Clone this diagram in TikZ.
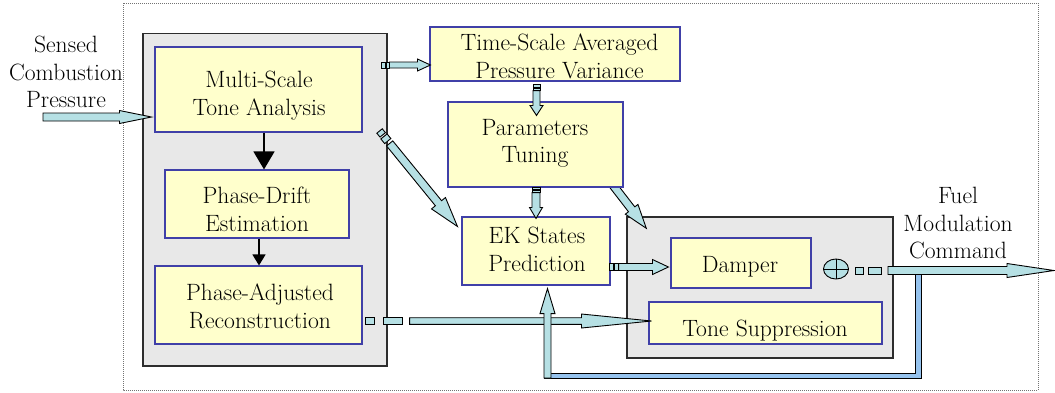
\documentclass[tikz,border=0pt]{standalone}
\usepackage{fontspec}
\usetikzlibrary{calc,arrows.meta,shapes.geometric}
\definecolor{arrfill}{RGB}{182,224,228}
\definecolor{fbblue}{RGB}{150,195,238}
\definecolor{ybfill}{RGB}{255,255,204}
\definecolor{ybdraw}{RGB}{64,64,168}
\definecolor{gbfill}{RGB}{232,232,232}
\definecolor{gbdraw}{RGB}{45,45,45}
\newcommand\blkarrow[6][]{%
  \path (#3) coordinate (bkT) ($(#3)!#6!(#2)$) coordinate (bkC);
  \filldraw[barr,#1] ($(#2)!#4!90:(bkT)$) -- ($(bkC)!#4!90:(bkT)$) -- ($(bkC)!#5!90:(bkT)$) -- (bkT)
     -- ($(bkC)!#5!-90:(bkT)$) -- ($(bkC)!#4!-90:(bkT)$) -- ($(#2)!#4!-90:(bkT)$) -- cycle;
}
\newcommand\blkseg[6][]{%
  \path ($(#2)!#4!(#3)$) coordinate (bsA) ($(#2)!#5!(#3)$) coordinate (bsB);
  \filldraw[barr,#1] ($(bsA)!#6!90:(bsB)$) -- ($(bsB)!#6!-90:(bsA)$) -- ($(bsB)!#6!90:(bsA)$) -- ($(bsA)!#6!-90:(bsB)$) -- cycle;
}
\tikzset{
  ybox/.style={draw=ybdraw, fill=ybfill, line width=1.1pt, inner sep=0pt, rectangle},
  gbox/.style={draw=gbdraw, fill=gbfill, line width=1.4pt, inner sep=0pt, rectangle},
  lbl/.style={font=\rmfamily\fontsize{23.6}{27.5}\selectfont, align=center, inner sep=0pt, anchor=north},
  barr/.style={fill=arrfill, draw=black, line width=0.9pt, line join=miter},
  blk/.style={draw=black, line width=1.3pt},
  fbl/.style={draw=black, line width=1pt, double=fbblue, double distance=4.5pt},
  outer/.style={draw=black!55, densely dotted, line width=1pt}
}
\begin{document}
\begin{tikzpicture}[x=1pt,y=-1pt]
\useasboundingbox (0,0) rectangle (1055,392);
% frame
\draw[outer] (123,3) rectangle (1038,390);
% containers
\node[gbox, minimum width=244pt, minimum height=332.5pt] (gl) at (265,199.75) {};
\node[gbox, minimum width=266pt, minimum height=141pt] (gr) at (760,287.5) {};
% arrow behind parameters box
\coordinate (d2s) at (609,180);
\coordinate (d2t) at ($(gr.north west)+(20,12)$);
\blkarrow{d2s}{d2t}{4pt}{8pt}{24pt}
% yellow boxes
\node[ybox, minimum width=207pt, minimum height=85pt] (ms) at (258.5,89.5) {};
\node[ybox, minimum width=184pt, minimum height=68pt] (pd) at (257,204) {};
\node[ybox, minimum width=207pt, minimum height=78pt] (pa) at (258.5,305) {};
\node[ybox, minimum width=250pt, minimum height=54pt] (ts) at (555,54) {};
\node[ybox, minimum width=175pt, minimum height=85pt] (pt) at (535.5,144.5) {};
\node[ybox, minimum width=148pt, minimum height=68pt] (ek) at (536,251) {};
\node[ybox, minimum width=140pt, minimum height=50pt] (dm) at (741,263) {};
\node[ybox, minimum width=233pt, minimum height=42pt] (tsup) at (765.5,323) {};
% input arrow
\coordinate (ins) at (43,117);
\coordinate (int) at ($(ms.west)+(-3,27.5)$);
\blkarrow{ins}{int}{4pt}{6.5pt}{32pt}
% to time-scale
\coordinate (tss) at ($(ts.west)+(-48,11)$);
\coordinate (tst) at ($(ts.west)+(1,11)$);
\blkseg{tss}{tst}{0pt}{3.5pt}{3pt}
\blkseg{tss}{tst}{4.5pt}{8pt}{3pt}
\coordinate (tsm) at ($(tss)!8pt!(tst)$);
\blkarrow{tsm}{tst}{3pt}{6pt}{13pt}
% time-scale to parameters
\coordinate (tps) at ($(ts.south)+(-18.5,3)$);
\coordinate (tpt) at ($(pt.north)+(1,14)$);
\blkseg{tps}{tpt}{0pt}{2.5pt}{3.5pt}
\blkseg{tps}{tpt}{3.5pt}{6pt}{3.5pt}
\coordinate (tpm) at ($(tps)!6pt!(tpt)$);
\blkarrow{tpm}{tpt}{3.5pt}{6.5pt}{10pt}
% parameters to EK
\coordinate (pes) at ($(pt.south)+(0.5,0)$);
\coordinate (pet) at ($(ek.north)+(0,2)$);
\blkseg{pes}{pet}{0pt}{2pt}{4pt}
\blkseg{pes}{pet}{3pt}{5pt}{4pt}
\coordinate (pem) at ($(pes)!5pt!(pet)$);
\blkarrow{pem}{pet}{4pt}{6.5pt}{11pt}
% EK to damper
\coordinate (eds) at ($(ek.east)+(-1,16)$);
\coordinate (edt) at ($(dm.west)+(-2,4)$);
\blkseg{eds}{edt}{0pt}{3.5pt}{3.5pt}
\blkseg{eds}{edt}{4.5pt}{9pt}{3.5pt}
\coordinate (edm) at ($(eds)!9pt!(edt)$);
\blkarrow{edm}{edt}{3.5pt}{7.5pt}{16pt}
% diagonal from tone analysis to EK
\coordinate (d1s) at ($(ms.east)+(17,41.5)$);
\coordinate (d1t) at ($(ek.north west)+(-4,10)$);
\blkseg{d1s}{d1t}{0pt}{5pt}{3.5pt}
\blkseg{d1s}{d1t}{7pt}{13pt}{4pt}
\coordinate (d1m) at ($(d1s)!16pt!(d1t)$);
\blkarrow{d1m}{d1t}{4pt}{9pt}{30pt}
% phase-adjusted to tone suppression
\coordinate (pts) at ($(pa.east)+(3,16)$);
\coordinate (ptt) at ($(tsup.west)+(3,-2)$);
\blkseg{pts}{ptt}{0pt}{9pt}{3.3pt}
\blkseg{pts}{ptt}{18pt}{37pt}{3.3pt}
\coordinate (ptm) at ($(pts)!44pt!(ptt)$);
\blkarrow{ptm}{ptt}{3.3pt}{7pt}{70pt}
% summing junction
\node[ellipse, draw=black, fill=arrfill, line width=0.9pt, minimum width=25pt, minimum height=20pt, inner sep=0pt] (sum) at (836,269) {};
\draw[line width=0.9pt] (sum.north) -- (sum.south) (sum.west) -- (sum.east);
% feedback line
\coordinate (fbs) at (918.5,272);
\coordinate (fbc) at (544,376);
\draw[fbl] (fbs) |- (fbc);
% output
\coordinate (outs) at ($(sum.east)+(6.5,1.5)$);
\coordinate (outt) at (1054,270.5);
\blkseg{outs}{outt}{0pt}{8pt}{3.5pt}
\blkseg{outs}{outt}{13pt}{26pt}{3.5pt}
\coordinate (outm) at ($(outs)!32.5pt!(outt)$);
\blkarrow{outm}{outt}{4pt}{7pt}{47pt}
% feedback up into EK
\coordinate (fus) at (547.5,378);
\coordinate (fut) at ($(ek.south)+(11.5,3)$);
\blkarrow{fus}{fut}{3.5pt}{7.5pt}{25pt}
% black arrows
\draw[blk, -{Triangle[width=21pt,length=18pt]}] ([xshift=5.5pt]ms.south) -- ([xshift=7pt]pd.north);
\draw[blk, -{Triangle[width=13pt,length=11pt]}] ([xshift=2pt]pd.south) -- ([xshift=0.5pt]pa.north);
% texts
\node[lbl] (tin) at (66,36) {Sensed\\Combustion\\Pressure};
\node[lbl] (tms) at (259,71) {Multi-Scale\\Tone Analysis};
\node[lbl] (tpd) at (257,187) {Phase-Drift\\Estimation};
\node[lbl] (tpa) at (260,284) {Phase-Adjusted\\Reconstruction};
\node[lbl] (tts) at (559.5,34) {Time-Scale Averaged\\Pressure Variance};
\node[lbl] (tpt) at (535,119) {Parameters\\Tuning};
\node[lbl] (tek) at (537,227) {EK States\\Prediction};
\node[lbl] (tdm) at (740,256) {Damper};
\node[lbl] (ttsup) at (765,320) {Tone Suppression};
\node[lbl] (tout) at (958,187) {Fuel\\Modulation\\Command};
\end{tikzpicture}
\end{document}
